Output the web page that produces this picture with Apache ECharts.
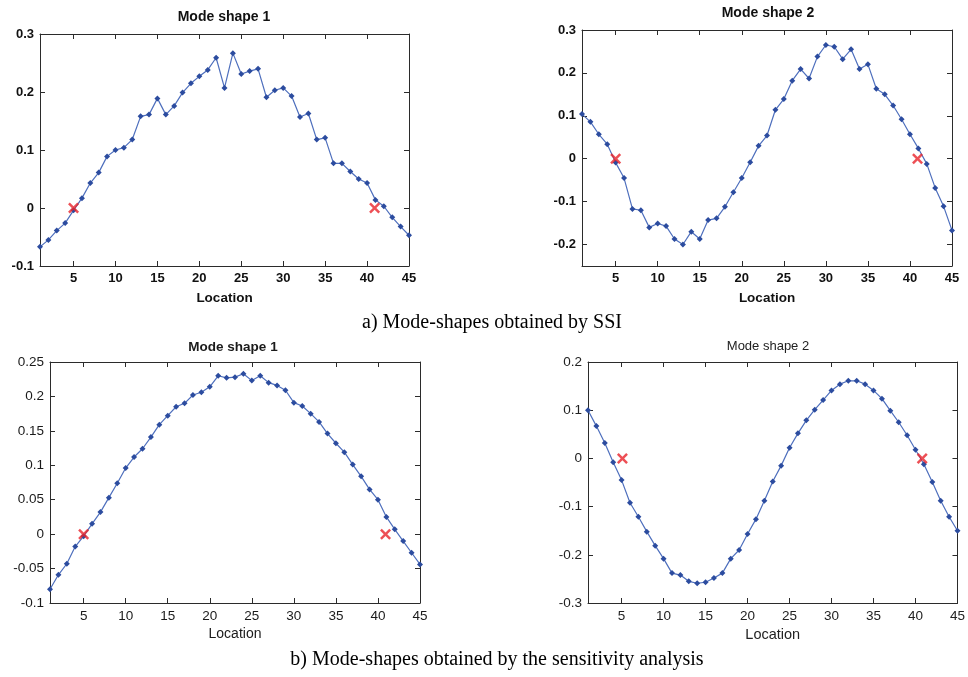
<!DOCTYPE html>
<html>
<head>
<meta charset="utf-8">
<script src="https://cdn.jsdelivr.net/npm/echarts@6/dist/echarts.min.js"></script>
<style>
html,body{margin:0;padding:0;background:#fff;}
#chart{width:968px;height:677px;}
</style>
</head>
<body>
<div id="chart"></div>
<script>
const location1 = [1,2,3,4,5,6,7,8,9,10,11,12,13,14,15,16,17,18,19,20,21,22,23,24,25,26,27,28,29,30,31,32,33,34,35,36,37,38,39,40,41,42,43,44,45];
const xTicks = [5,10,15,20,25,30,35,40,45];

// a) SSI
const ssiMode1 = [-0.067,-0.055,-0.039,-0.026,-0.004,0.017,0.043,0.061,0.089,0.100,0.104,0.118,0.158,0.161,0.189,0.161,0.176,0.199,0.215,0.227,0.238,0.259,0.207,0.267,0.231,0.236,0.240,0.191,0.203,0.207,0.193,0.157,0.163,0.118,0.121,0.077,0.077,0.063,0.050,0.043,0.014,0.003,-0.016,-0.032,-0.047];
const ssiMode2 = [0.104,0.086,0.057,0.034,-0.009,-0.045,-0.117,-0.120,-0.160,-0.151,-0.157,-0.187,-0.200,-0.170,-0.187,-0.143,-0.139,-0.112,-0.078,-0.045,-0.008,0.030,0.054,0.114,0.139,0.182,0.209,0.187,0.238,0.265,0.261,0.232,0.255,0.209,0.220,0.163,0.150,0.124,0.092,0.057,0.024,-0.012,-0.068,-0.111,-0.167];
// b) sensitivity analysis
const sensMode1 = [-0.080,-0.059,-0.043,-0.018,-0.003,0.015,0.032,0.053,0.074,0.096,0.112,0.124,0.141,0.159,0.172,0.185,0.190,0.202,0.206,0.214,0.230,0.227,0.228,0.233,0.223,0.230,0.220,0.216,0.209,0.191,0.186,0.175,0.163,0.146,0.132,0.119,0.101,0.084,0.065,0.050,0.025,0.007,-0.010,-0.027,-0.044];
const sensMode2 = [0.100,0.067,0.032,-0.008,-0.045,-0.092,-0.121,-0.152,-0.181,-0.208,-0.238,-0.242,-0.255,-0.259,-0.257,-0.248,-0.238,-0.208,-0.190,-0.157,-0.126,-0.088,-0.048,-0.015,0.022,0.052,0.079,0.101,0.121,0.141,0.154,0.161,0.161,0.154,0.141,0.124,0.099,0.075,0.048,0.018,-0.012,-0.049,-0.088,-0.121,-0.150];

// red cross markers (location, value)
const ssiMode1Marks = [[5,0],[40.9,0]];
const ssiMode2Marks = [[5,0],[40.9,0]];
const sensMode1Marks = [[5,0],[40.9,0]];
const sensMode2Marks = [[5.1,0],[40.8,0]];

const yTicks1 = [-0.1,0,0.1,0.2,0.3];
const yTicks2 = [-0.2,-0.1,0,0.1,0.2,0.3];
const yTicks3 = [-0.1,-0.05,0,0.05,0.1,0.15,0.2,0.25];
const yTicks4 = [-0.3,-0.2,-0.1,0,0.1,0.2];

const titles = ['Mode shape 1','Mode shape 2','Mode shape 1','Mode shape 2'];
const captionA = 'a) Mode-shapes obtained by SSI';
const captionB = 'b) Mode-shapes obtained by the sensitivity analysis';

const panels = [
  {grid:{left:40,top:34,width:369,height:232}, data:ssiMode1, marks:ssiMode1Marks, ymin:-0.1, ymax:0.3, yt:yTicks1,
   fs:13, fw:'bold', nfs:13.5, nfw:'bold', gap:25, tfs:14, tfw:'bold', tx:224, ty:17, col:'#111'},
  {grid:{left:582,top:30,width:370,height:236}, data:ssiMode2, marks:ssiMode2Marks, ymin:-0.25, ymax:0.3, yt:yTicks2,
   fs:13, fw:'bold', nfs:13.5, nfw:'bold', gap:25, tfs:14, tfw:'bold', tx:768, ty:13, col:'#111'},
  {grid:{left:50,top:362,width:370,height:241}, data:sensMode1, marks:sensMode1Marks, ymin:-0.1, ymax:0.25, yt:yTicks3,
   fs:13.5, fw:'normal', nfs:14, nfw:'normal', gap:24, tfs:13.5, tfw:'bold', tx:233, ty:347, col:'#1a1a1a'},
  {grid:{left:588,top:362,width:375,height:241}, data:sensMode2, marks:sensMode2Marks, ymin:-0.3, ymax:0.2, yt:yTicks4,
   fs:13.5, fw:'normal', nfs:14.5, nfw:'normal', gap:24, tfs:13, tfw:'normal', tx:768, ty:346, col:'#222'}
];

const FONT = '"Liberation Sans", Arial, sans-serif';
const axisLine = {show:true, onZero:false, lineStyle:{color:'#2b2b2b', width:1}};
const fmt = v => String(parseFloat(Number(v).toFixed(3)));
const crossPath = 'path://M0,1.6L1.6,0L5,3.4L8.4,0L10,1.6L6.6,5L10,8.4L8.4,10L5,6.6L1.6,10L0,8.4L3.4,5Z';

const grid = [], xAxis = [], yAxis = [], series = [], graphic = [];
panels.forEach((p, i) => {
  grid.push(p.grid);
  // bottom x
  xAxis.push({type:'value', gridIndex:i, min:1, max:45, position:'bottom',
    axisLine, splitLine:{show:false},
    axisTick:{show:true, inside:true, length:5, customValues:xTicks, lineStyle:{color:'#2b2b2b'}},
    axisLabel:{show:true, customValues:xTicks, margin:6, fontSize:p.fs, fontWeight:p.fw, fontFamily:FONT, color:p.col, formatter:fmt},
    name:'Location', nameLocation:'middle', nameGap:p.gap,
    nameTextStyle:{fontSize:p.nfs, fontWeight:p.nfw, fontFamily:FONT, color:p.col}
  });
  // top x (box)
  xAxis.push({type:'value', gridIndex:i, min:1, max:45, position:'top',
    axisLine, splitLine:{show:false},
    axisTick:{show:true, inside:true, length:5, customValues:xTicks, lineStyle:{color:'#2b2b2b'}},
    axisLabel:{show:false}
  });
  // left y
  yAxis.push({type:'value', gridIndex:i, min:p.ymin, max:p.ymax, position:'left',
    axisLine, splitLine:{show:false},
    axisTick:{show:true, inside:true, length:5, customValues:p.yt, lineStyle:{color:'#2b2b2b'}},
    axisLabel:{show:true, customValues:p.yt, margin:6, fontSize:p.fs, fontWeight:p.fw, fontFamily:FONT, color:p.col, formatter:fmt}
  });
  // right y (box)
  yAxis.push({type:'value', gridIndex:i, min:p.ymin, max:p.ymax, position:'right',
    axisLine, splitLine:{show:false},
    axisTick:{show:true, inside:true, length:5, customValues:p.yt, lineStyle:{color:'#2b2b2b'}},
    axisLabel:{show:false}
  });
  series.push({type:'line', xAxisIndex:2*i, yAxisIndex:2*i,
    data: location1.map((x, k) => [x, p.data[k]]),
    symbol:'diamond', symbolSize:6, showSymbol:true,
    lineStyle:{color:'#4e6fbd', width:1.2},
    itemStyle:{color:'#2c4c9f'},
    animation:false, z:2
  });
  series.push({type:'scatter', xAxisIndex:2*i, yAxisIndex:2*i,
    data: p.marks, symbol:crossPath, symbolSize:11,
    itemStyle:{color:'#e8232b'}, animation:false, z:3
  });
  graphic.push({type:'text', x:p.tx, y:p.ty, style:{text:titles[i], fontSize:p.tfs, fontFamily:FONT,
    fontWeight:p.tfw, fill:p.col, align:'center', verticalAlign:'middle'}});
});

graphic.push({type:'text', x:492, y:323, style:{text:captionA, fontSize:20, fontFamily:'"Liberation Serif", "Times New Roman", serif', fill:'#000', align:'center', verticalAlign:'middle'}});
graphic.push({type:'text', x:497, y:660, style:{text:captionB, fontSize:20, fontFamily:'"Liberation Serif", "Times New Roman", serif', fill:'#000', align:'center', verticalAlign:'middle'}});

const chart = echarts.init(document.getElementById('chart'), null, {renderer:'canvas'});
chart.setOption({animation:false, backgroundColor:'#fff', grid, xAxis, yAxis, series, graphic});
</script>
</body>
</html>
